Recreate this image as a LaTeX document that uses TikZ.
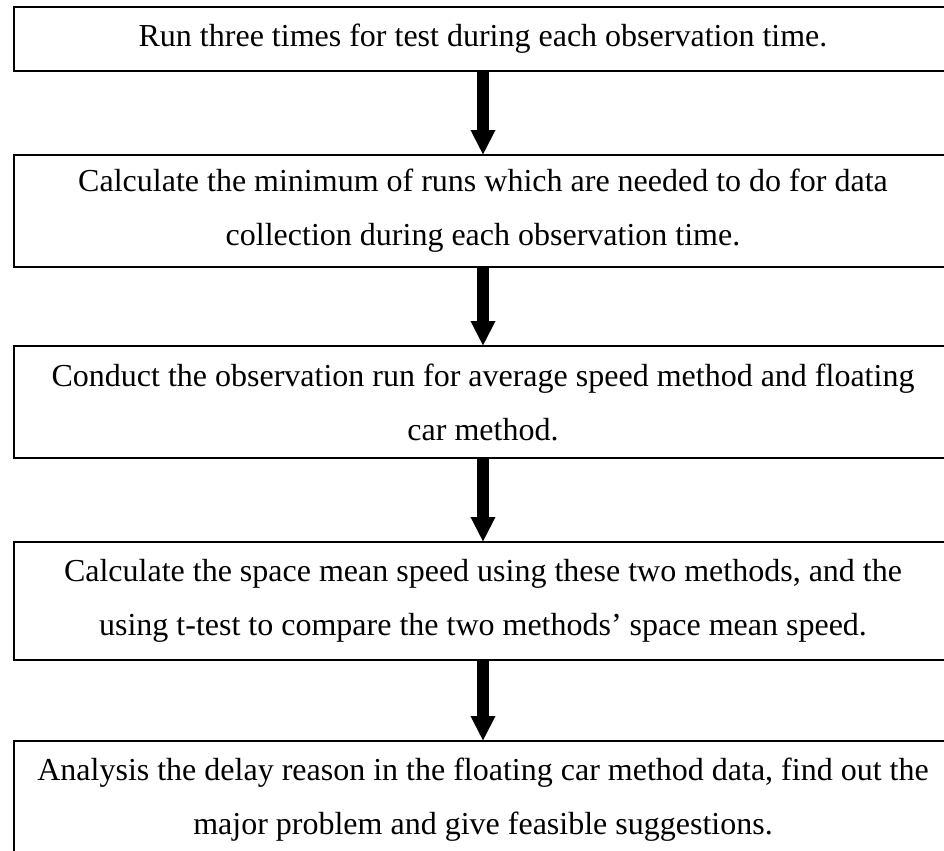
\documentclass[tikz,border=0pt]{standalone}
\usepackage{fontspec}
\setmainfont{Liberation Serif}
\usetikzlibrary{arrows.meta}
\begin{document}
\begin{tikzpicture}[x=0.5pt, y=-0.5pt,
  procbox/.style={draw, line width=1pt, inner sep=0pt, outer sep=0pt,
    minimum width=469pt, align=center,
    font=\fontsize{16}{27}\selectfont},
  flowarrow/.style={line width=6pt,
    -{Triangle[width=11.5pt, length=12.5pt]}}]
\useasboundingbox (0, 0) rectangle (944, 851);
\node[procbox, minimum height=32pt] (run) at (483, 39)
  {Run three times for test during each observation time.};
\node[procbox, minimum height=56pt] (minruns) at (483, 211)
  {Calculate the minimum of runs which are needed to do for data\\
   collection during each observation time.};
\node[procbox, minimum height=56pt] (conduct) at (483, 402)
  {Conduct the observation run for average speed method and floating\\
   car method.};
\node[procbox, minimum height=59pt] (speed) at (483, 601)
  {Calculate the space mean speed using these two methods, and the\\
   using t-test to compare the two methods’ space mean speed.};
\node[procbox, minimum height=59pt] (delay) at (483, 800)
  {Analysis the delay reason in the floating car method data, find out the\\
   major problem and give feasible suggestions.};
\draw[flowarrow] (run) -- (minruns);
\draw[flowarrow] (minruns) -- (conduct);
\draw[flowarrow] (conduct) -- (speed);
\draw[flowarrow] (speed) -- (delay);
\end{tikzpicture}
\end{document}
